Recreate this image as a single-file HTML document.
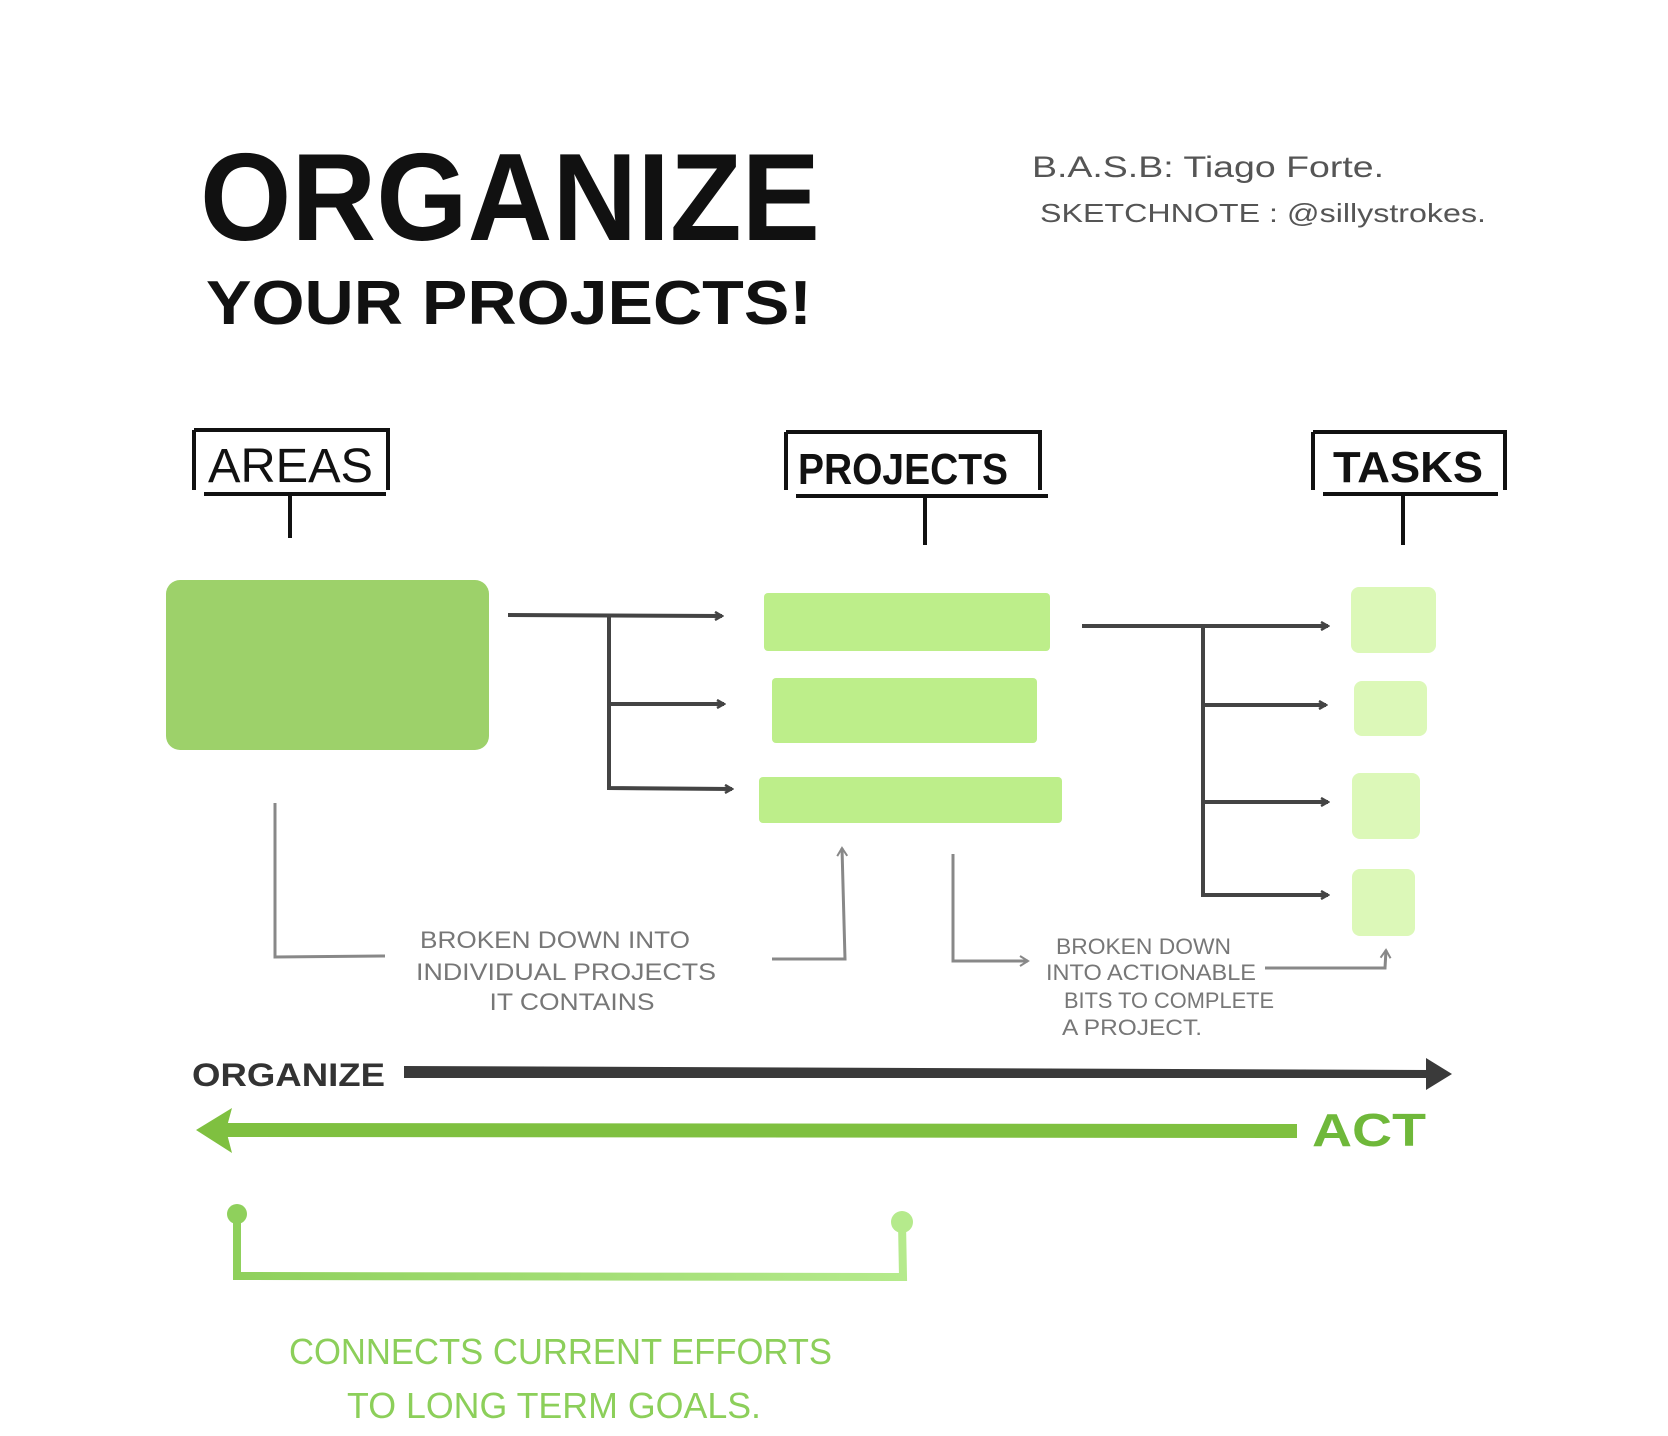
<!DOCTYPE html>
<html><head><meta charset="utf-8"><style>
html,body{margin:0;padding:0;background:#fff;}
svg{display:block;}
text{font-family:"Liberation Sans",sans-serif;}
</style></head><body>
<svg width="1668" height="1436" viewBox="0 0 1668 1436" xmlns="http://www.w3.org/2000/svg">
<defs>
<marker id="ah" markerWidth="10" markerHeight="10" refX="8" refY="5" orient="auto" markerUnits="userSpaceOnUse"><path d="M1,1 L8,5 L1,9" fill="none" stroke="#444" stroke-width="2.5"/></marker>
<marker id="ag" markerWidth="12" markerHeight="12" refX="9" refY="6" orient="auto" markerUnits="userSpaceOnUse"><path d="M1,1 L9,6 L1,11" fill="none" stroke="#888" stroke-width="2"/></marker>
<linearGradient id="gb" x1="0" x2="1"><stop offset="0" stop-color="#8fd05c"/><stop offset="1" stop-color="#b5ea8c"/></linearGradient>
</defs>
<text x="200" y="240" font-size="124" font-weight="bold" fill="#111" textLength="620" lengthAdjust="spacingAndGlyphs">ORGANIZE</text>
<text x="206" y="324" font-size="62" font-weight="bold" fill="#111" textLength="606" lengthAdjust="spacingAndGlyphs">YOUR PROJECTS!</text>
<text x="1032" y="177" font-size="30" fill="#555" textLength="352" lengthAdjust="spacingAndGlyphs">B.A.S.B: Tiago Forte.</text>
<text x="1040" y="222" font-size="26" fill="#555" textLength="446" lengthAdjust="spacingAndGlyphs">SKETCHNOTE : @sillystrokes.</text>
<g fill="none" stroke="#111" stroke-width="4">
<path d="M194,430 L194,490 M194,430 L388,430 L388,490 M204,494 L386,494 M290,494 L290,538"/>
<path d="M786,432 L786,490 M786,432 L1040,432 L1040,490 M796,496 L1048,496 M925,496 L925,545"/>
<path d="M1313,432 L1313,490 M1313,432 L1505,432 L1505,490 M1323,494 L1498,494 M1403,494 L1403,545"/>
</g>
<text x="208" y="482" font-size="48" fill="#111" textLength="165" lengthAdjust="spacingAndGlyphs">AREAS</text>
<text x="798" y="484" font-size="44" font-weight="bold" fill="#111" textLength="210" lengthAdjust="spacingAndGlyphs">PROJECTS</text>
<text x="1333" y="482" font-size="44" font-weight="bold" fill="#111" textLength="150" lengthAdjust="spacingAndGlyphs">TASKS</text>
<rect x="166" y="580" width="323" height="170" rx="14" fill="#9dd16a"/>
<rect x="764" y="593" width="286" height="58" rx="4" fill="#bdee8a"/>
<rect x="772" y="678" width="265" height="65" rx="4" fill="#bdee8a"/>
<rect x="759" y="777" width="303" height="46" rx="4" fill="#bdee8a"/>
<rect x="1351" y="587" width="85" height="66" rx="8" fill="#dcf8b8"/>
<rect x="1354" y="681" width="73" height="55" rx="8" fill="#dcf8b8"/>
<rect x="1352" y="773" width="68" height="66" rx="8" fill="#dcf8b8"/>
<rect x="1352" y="869" width="63" height="67" rx="8" fill="#dcf8b8"/>
<g fill="none" stroke="#444" stroke-width="4">
<path d="M508,615 L722,616" marker-end="url(#ah)"/>
<path d="M609,615 L609,788 L732,789" marker-end="url(#ah)"/>
<path d="M609,704 L724,704" marker-end="url(#ah)"/>
<path d="M1082,626 L1328,626" marker-end="url(#ah)"/>
<path d="M1203,626 L1203,895 L1328,895" marker-end="url(#ah)"/>
<path d="M1203,705 L1326,705" marker-end="url(#ah)"/>
<path d="M1203,802 L1328,802" marker-end="url(#ah)"/>
</g>
<g fill="none" stroke="#888" stroke-width="3">
<path d="M275,803 L275,957 L385,956"/>
<path d="M772,959 L845,959 L842,848" marker-end="url(#ag)"/>
<path d="M953,854 L953,961 L1028,961" marker-end="url(#ag)"/>
<path d="M1265,968 L1385,968 L1386,950" marker-end="url(#ag)"/>
</g>
<g fill="#777" font-size="24" text-anchor="middle">
<text x="555" y="948" textLength="270" lengthAdjust="spacingAndGlyphs">BROKEN DOWN INTO</text>
<text x="566" y="980" textLength="300" lengthAdjust="spacingAndGlyphs">INDIVIDUAL PROJECTS</text>
<text x="572" y="1010" textLength="165" lengthAdjust="spacingAndGlyphs">IT CONTAINS</text>
</g>
<g fill="#777" font-size="22">
<text x="1056" y="954" textLength="175" lengthAdjust="spacingAndGlyphs">BROKEN DOWN</text>
<text x="1046" y="980" textLength="210" lengthAdjust="spacingAndGlyphs">INTO ACTIONABLE</text>
<text x="1064" y="1008" textLength="210" lengthAdjust="spacingAndGlyphs">BITS TO COMPLETE</text>
<text x="1062" y="1035" textLength="140" lengthAdjust="spacingAndGlyphs">A PROJECT.</text>
</g>
<text x="192" y="1086" font-size="32" font-weight="bold" fill="#333" textLength="193" lengthAdjust="spacingAndGlyphs">ORGANIZE</text>
<path d="M404,1066 L1430,1070 L1430,1078 L404,1078 Z" fill="#3a3a3a"/>
<path d="M1426,1058 L1452,1074 L1426,1090 Z" fill="#3a3a3a"/>
<path d="M220,1123 L1297,1124 L1297,1138 L220,1137 Z" fill="#7fc040"/>
<path d="M196,1130 L232,1108 L226,1130 L232,1153 Z" fill="#7fc040"/>
<text x="1312" y="1146" font-size="46" font-weight="bold" fill="#6fb83a" textLength="114" lengthAdjust="spacingAndGlyphs">ACT</text>
<path d="M237,1214 L237,1276 L903,1277 L902,1222" fill="none" stroke="url(#gb)" stroke-width="8"/>
<circle cx="237" cy="1214" r="10" fill="#8fd05c"/>
<circle cx="902" cy="1222" r="11" fill="#b5ea8c"/>
<text x="289" y="1364" font-size="36" fill="#8ccf5a" textLength="543" lengthAdjust="spacingAndGlyphs">CONNECTS CURRENT EFFORTS</text>
<text x="347" y="1418" font-size="36" fill="#8ccf5a" textLength="414" lengthAdjust="spacingAndGlyphs">TO LONG TERM GOALS.</text>
</svg>
</body></html>
